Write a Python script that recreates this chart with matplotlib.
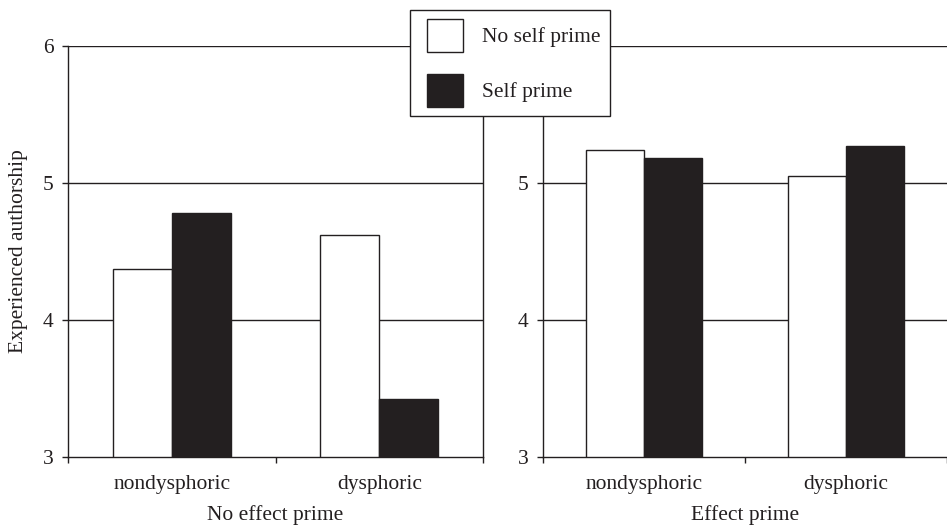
import matplotlib
matplotlib.use("Agg")
import matplotlib.pyplot as plt
import numpy as np
from matplotlib.patches import Patch, Rectangle
from matplotlib.legend_handler import HandlerPatch

plt.rcParams['font.family'] = ['Liberation Serif', 'DejaVu Serif']

categories = ["nondysphoric", "dysphoric"]
panels = ["No effect prime", "Effect prime"]
series = ["No self prime", "Self prime"]
no_self_prime = {"No effect prime": [4.37, 4.62], "Effect prime": [5.24, 5.05]}
self_prime = {"No effect prime": [4.78, 3.42], "Effect prime": [5.18, 5.27]}
yticks = [3, 4, 5, 6]

INK = '#231f20'
FS = 15.5
W, H = 947, 526
fig = plt.figure(figsize=(W / 100, H / 100), dpi=100)

ax1 = fig.add_axes([68 / W, (H - 457) / H, (483 - 68) / W, (457 - 46) / H])
ax2 = fig.add_axes([543 / W, (H - 457) / H, (947 - 543) / W, (457 - 46) / H])

bw = 0.285
x = np.arange(len(categories))
for ax, panel, xmax in [(ax1, panels[0], 1.5), (ax2, panels[1], -0.5 + 404 / 205)]:
    ax.set_ylim(3, 6)
    ax.set_xlim(-0.5, xmax)
    for yv in yticks[1:]:
        ax.axhline(yv, color=INK, lw=1.0, zorder=1)
    ax.bar(x - bw / 2, no_self_prime[panel], bw, bottom=0, color='white',
           edgecolor=INK, linewidth=1.0, zorder=2)
    ax.bar(x + bw / 2, self_prime[panel], bw, bottom=0, color=INK,
           edgecolor=INK, linewidth=1.0, zorder=2)
    ax.set_yticks(yticks)
    ax.set_yticklabels([str(t) for t in yticks], fontsize=FS, color=INK)
    ax.set_xticks([-0.5, 0.5, 1.5])
    ax.set_xticklabels([])
    ax.set_xticks(x, minor=True)
    ax.set_xticklabels(categories, minor=True, fontsize=FS, color=INK)
    ax.tick_params(axis='x', which='minor', length=0, pad=13)
    ax.tick_params(axis='x', which='major', length=4.5, width=1.0, color=INK, direction='out')
    ax.tick_params(axis='y', length=4.5, width=1.0, color=INK, pad=6)
    ax.set_xlabel(panel, fontsize=FS, color=INK, labelpad=8)
    ax.spines['top'].set_visible(False)
    for s in ['left', 'bottom', 'right']:
        ax.spines[s].set_color(INK)
        ax.spines[s].set_linewidth(1.0)
    ax.patch.set_alpha(0)

ax2.spines['right'].set_visible(False)
# the "6" label of the right panel lies hidden under the legend
ax2.set_yticklabels([str(t) for t in yticks[:-1]] + [""], fontsize=FS, color=INK)
ax1.set_ylabel("Experienced authorship", fontsize=FS, color=INK)
ax1.yaxis.set_label_coords(-40 / 415, 0.5)

LPAD = 5.8  # points of extra left padding before each legend swatch


def swatch(legend, orig_handle, xdescent, ydescent, width, height, fontsize):
    return Rectangle((-xdescent + LPAD, -ydescent), width - LPAD, height)


handles = [Patch(facecolor='white', edgecolor=INK, linewidth=1.0),
           Patch(facecolor=INK, edgecolor=INK, linewidth=1.0)]
leg = fig.legend(handles, series, loc='upper left',
                 bbox_to_anchor=(410 / W, (H - 10) / H), bbox_transform=fig.transFigure,
                 fontsize=FS, handlelength=2.05, handleheight=1.98, labelspacing=1.0,
                 handletextpad=0.88, borderpad=0.42, borderaxespad=0, fancybox=False,
                 framealpha=1, edgecolor=INK,
                 handler_map={Patch: HandlerPatch(patch_func=swatch)})
leg.get_frame().set_linewidth(1.0)
leg.set_zorder(10)
for t in leg.get_texts():
    t.set_color(INK)

fig.savefig("out.png", dpi=100)
